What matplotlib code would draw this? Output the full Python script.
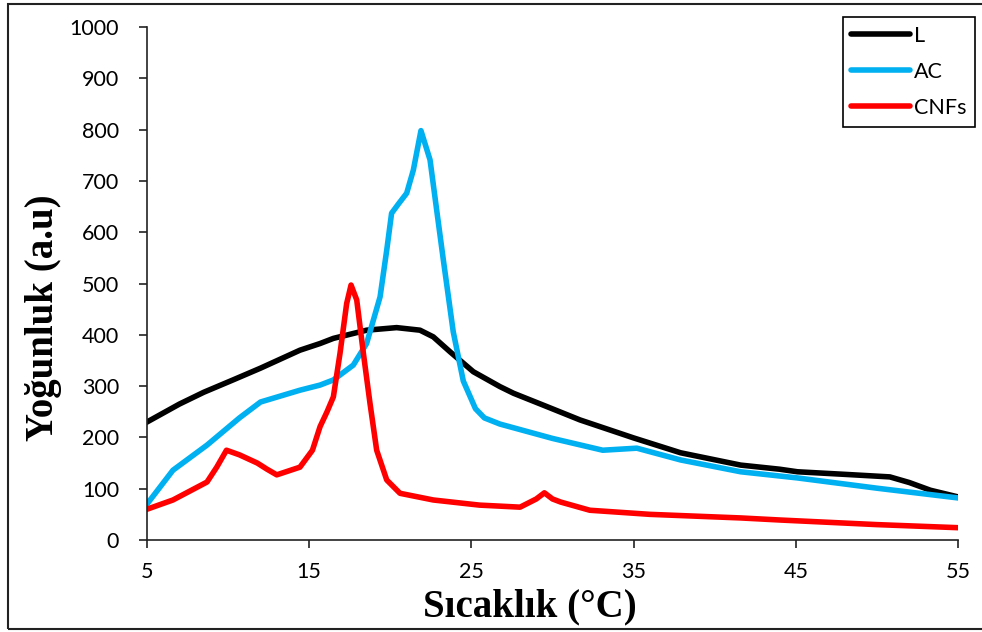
import matplotlib.pyplot as plt
from matplotlib.patches import Rectangle

# values
x_L = [5, 7, 8.5, 10.3, 12, 14.43, 15.67, 16.49, 18.54, 20.39, 21.83, 22.65,
       23.68, 25.12, 26.76, 27.6, 29.5, 31.7, 35, 37.9, 41.6, 44, 45.1, 48,
       50.8, 52, 53.3, 55]
y_L = [230, 265, 288, 312, 335, 370, 383, 393, 409, 414, 409, 396,
       367, 328, 299, 286, 262, 234, 199, 170, 146, 138, 133, 128,
       123, 112, 97, 84]

x_AC = [5, 6.6, 8.7, 10.7, 12, 14.43, 15.67, 16.49, 17.72, 18.54, 19.37,
        19.78, 20.08, 20.5, 21.01, 21.42, 21.89, 22.45, 22.86, 23.27, 23.88,
        24.5, 25.25, 25.8, 26.76, 30, 33.1, 35.2, 37.9, 41.6, 45.1, 50, 55]
y_AC = [70, 136, 185, 238, 269, 292, 302, 312, 341, 383, 474,
        565, 637, 655, 676, 721, 798, 741, 643, 546, 406,
        310, 256, 238, 226, 198, 175, 179, 156, 133, 121, 101, 82]

x_CNF = [5, 6.6, 8.7, 9.3, 9.9, 10.7, 11.8, 12.4, 13, 14.43, 15.2, 15.67,
         16.1, 16.49, 16.9, 17.31, 17.58, 17.93, 18.34, 18.75, 19.16, 19.78,
         20.6, 22.65, 25.5, 26.76, 28, 29, 29.5, 30, 30.5, 32.3, 36, 41.6,
         44, 50, 55]
y_CNF = [60, 78, 113, 142, 175, 166, 150, 138, 127, 142, 175, 221,
         250, 279, 364, 461, 497, 468, 364, 266, 175, 117,
         91, 78, 68, 66, 64, 80, 92, 80, 74, 58, 50, 43,
         39, 30, 24]

x_ticks = [5, 15, 25, 35, 45, 55]
y_ticks = list(range(0, 1001, 100))

fig = plt.figure(figsize=(9.82, 6.32), dpi=100)
ax = fig.add_axes([147 / 982, 1 - 540 / 632, 811 / 982, 513 / 632])

ax.plot(x_L, y_L, color='black', linewidth=4, label='L', solid_joinstyle='round')
ax.plot(x_AC, y_AC, color='#00B0F0', linewidth=4, label='AC', solid_joinstyle='round')
ax.plot(x_CNF, y_CNF, color='#FF0000', linewidth=4, label='CNFs', solid_joinstyle='round')

ax.set_xlim(5, 55)
ax.set_ylim(0, 1000)
ax.set_xticks(x_ticks)
ax.set_yticks(y_ticks)
for side in ['top', 'right']:
    ax.spines[side].set_visible(False)
for side in ['left', 'bottom']:
    ax.spines[side].set_color('#222222')
    ax.spines[side].set_linewidth(1.2)
ax.tick_params(axis='both', direction='out', length=6, width=1.2, color='#222222',
               labelsize=15.5)
ax.tick_params(axis='y', pad=14)
ax.tick_params(axis='x', pad=10)
for lab in ax.get_xticklabels() + ax.get_yticklabels():
    lab.set_fontfamily('Lato')

ax.set_xlabel('Sıcaklık (°C)', fontsize=28, fontweight='bold',
              family='Liberation Serif')
ax.set_ylabel('Yoğunluk (a.u)', fontsize=28, fontweight='bold',
              family='Liberation Serif')
ax.xaxis.set_label_coords(0.472, -0.094)
ax.yaxis.set_label_coords(-0.105, 0.433)

leg = ax.legend(loc='upper right', bbox_to_anchor=(975 / 982, 1 - 17 / 632),
                bbox_transform=fig.transFigure, borderaxespad=0, fancybox=False,
                edgecolor='black', framealpha=1, handlelength=2.7,
                handletextpad=0.2, labelspacing=0.75,
                prop={'family': 'Lato', 'size': 15.5})
leg.get_frame().set_linewidth(1.2)
for line in leg.get_lines():
    line.set_solid_capstyle('round')

# outer chart border
fig.patches.append(Rectangle((8 / 982, 3 / 632), 1.2, 1 - 7 / 632, fill=False,
                             edgecolor='#222222', linewidth=1.5,
                             transform=fig.transFigure, figure=fig))

plt.savefig('out.png', dpi=100)
